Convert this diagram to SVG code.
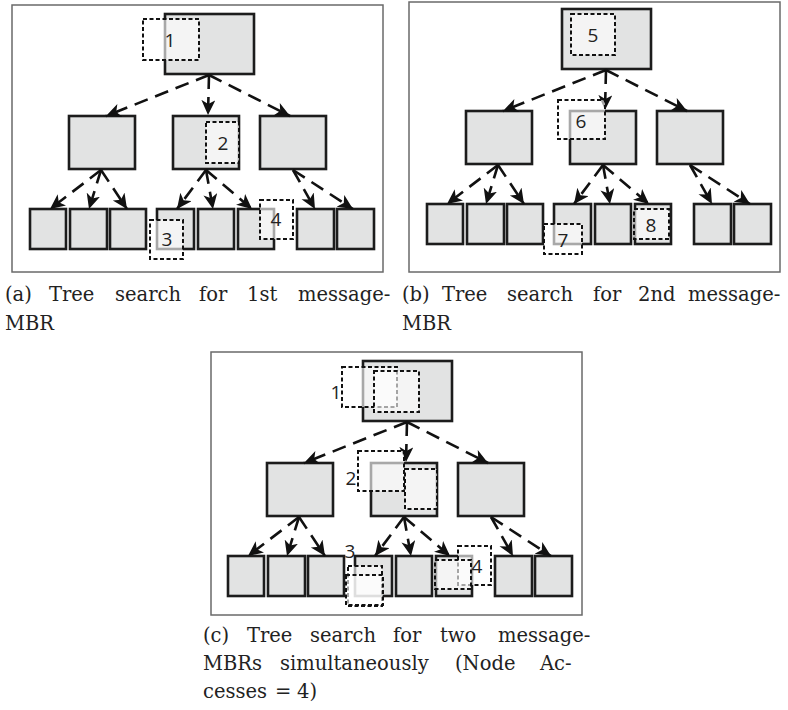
<svg xmlns="http://www.w3.org/2000/svg" width="788" height="710" viewBox="0 0 788 710">
<defs>
<style>
.frame{fill:none;stroke:#6a6a6a;stroke-width:1.5}
.n{fill:#e2e3e3;stroke:#1c1c1c;stroke-width:2.6}
.c{fill:none;stroke:#111;stroke-width:2.6;stroke-dasharray:14 8}
.q{fill:#ffffff;fill-opacity:0.62;stroke:#111;stroke-width:2;stroke-dasharray:4 2.5}
.lbl{font-family:'Open Sans','Liberation Sans',sans-serif;font-size:19px;fill:#222;text-anchor:middle}
.cap{font-family:'DejaVu Serif',serif;font-size:19.5px;fill:#222}
</style>
<marker id="ah" markerUnits="userSpaceOnUse" markerWidth="16" markerHeight="15" refX="15" refY="7" orient="auto">
<path d="M0,0 L15,7 L0,14 L4,7 z" fill="#111"/>
</marker>
</defs>
<rect width="788" height="710" fill="#ffffff"/>
<rect class="frame" x="12" y="5" width="371" height="267"/>
<rect class="frame" x="409" y="2" width="371" height="270"/>
<rect class="frame" x="211" y="352" width="371" height="263"/>

<!-- Panel (a) -->
<g id="panel-a">
<g id="a-nodes">
<g id="a-root"><rect class="n" x="165" y="14" width="89" height="60"/></g>
<g id="a-m1"><rect class="n" x="69" y="116" width="66" height="53"/></g>
<g id="a-m2"><rect class="n" x="173" y="116" width="66" height="53"/></g>
<g id="a-m3"><rect class="n" x="260" y="116" width="66" height="53"/></g>
<g id="a-l1"><rect class="n" x="30" y="209" width="36" height="40"/></g>
<g id="a-l2"><rect class="n" x="70" y="209" width="37" height="40"/></g>
<g id="a-l3"><rect class="n" x="110" y="209" width="36" height="40"/></g>
<g id="a-l4"><rect class="n" x="157" y="209" width="37" height="40"/></g>
<g id="a-l5"><rect class="n" x="198" y="209" width="36" height="40"/></g>
<g id="a-l6"><rect class="n" x="238" y="209" width="36" height="40"/></g>
<g id="a-l7"><rect class="n" x="297" y="209" width="37" height="40"/></g>
<g id="a-l8"><rect class="n" x="337" y="209" width="37" height="40"/></g>
</g>
<g id="a-connectors">
<path class="c" marker-end="url(#ah)" d="M209,75 L106,116"/>
<path class="c" marker-end="url(#ah)" d="M209,75 L208,115"/>
<path class="c" marker-end="url(#ah)" d="M209,75 L290,116"/>
<path class="c" marker-end="url(#ah)" d="M101,170 L50,209"/>
<path class="c" marker-end="url(#ah)" d="M101,170 L89,209"/>
<path class="c" marker-end="url(#ah)" d="M101,170 L127,209"/>
<path class="c" marker-end="url(#ah)" d="M206,170 L177,209"/>
<path class="c" marker-end="url(#ah)" d="M206,170 L213,209"/>
<path class="c" marker-end="url(#ah)" d="M206,170 L252,209"/>
<path class="c" marker-end="url(#ah)" d="M293,170 L315,209"/>
<path class="c" marker-end="url(#ah)" d="M293,170 L353,209"/>
</g>
</g>

<!-- Panel (b) -->
<g id="panel-b" transform="translate(397,-5)">
<g id="b-nodes">
<g id="b-root"><rect class="n" x="165" y="14" width="89" height="60"/></g>
<g id="b-m1"><rect class="n" x="69" y="116" width="66" height="53"/></g>
<g id="b-m2"><rect class="n" x="173" y="116" width="66" height="53"/></g>
<g id="b-m3"><rect class="n" x="260" y="116" width="66" height="53"/></g>
<g id="b-l1"><rect class="n" x="30" y="209" width="36" height="40"/></g>
<g id="b-l2"><rect class="n" x="70" y="209" width="37" height="40"/></g>
<g id="b-l3"><rect class="n" x="110" y="209" width="36" height="40"/></g>
<g id="b-l4"><rect class="n" x="157" y="209" width="37" height="40"/></g>
<g id="b-l5"><rect class="n" x="198" y="209" width="36" height="40"/></g>
<g id="b-l6"><rect class="n" x="238" y="209" width="36" height="40"/></g>
<g id="b-l7"><rect class="n" x="297" y="209" width="37" height="40"/></g>
<g id="b-l8"><rect class="n" x="337" y="209" width="37" height="40"/></g>
</g>
<g id="b-connectors">
<path class="c" marker-end="url(#ah)" d="M209,75 L106,116"/>
<path class="c" marker-end="url(#ah)" d="M209,75 L208,115"/>
<path class="c" marker-end="url(#ah)" d="M209,75 L290,116"/>
<path class="c" marker-end="url(#ah)" d="M101,170 L50,209"/>
<path class="c" marker-end="url(#ah)" d="M101,170 L89,209"/>
<path class="c" marker-end="url(#ah)" d="M101,170 L127,209"/>
<path class="c" marker-end="url(#ah)" d="M206,170 L177,209"/>
<path class="c" marker-end="url(#ah)" d="M206,170 L213,209"/>
<path class="c" marker-end="url(#ah)" d="M206,170 L252,209"/>
<path class="c" marker-end="url(#ah)" d="M293,170 L315,209"/>
<path class="c" marker-end="url(#ah)" d="M293,170 L353,209"/>
</g>
</g>

<!-- Panel (c) -->
<g id="panel-c" transform="translate(198,347)">
<g id="c-nodes">
<g id="c-root"><rect class="n" x="165" y="14" width="89" height="60"/></g>
<g id="c-m1"><rect class="n" x="69" y="116" width="66" height="53"/></g>
<g id="c-m2"><rect class="n" x="173" y="116" width="66" height="53"/></g>
<g id="c-m3"><rect class="n" x="260" y="116" width="66" height="53"/></g>
<g id="c-l1"><rect class="n" x="30" y="209" width="36" height="40"/></g>
<g id="c-l2"><rect class="n" x="70" y="209" width="37" height="40"/></g>
<g id="c-l3"><rect class="n" x="110" y="209" width="36" height="40"/></g>
<g id="c-l4"><rect class="n" x="157" y="209" width="37" height="40"/></g>
<g id="c-l5"><rect class="n" x="198" y="209" width="36" height="40"/></g>
<g id="c-l6"><rect class="n" x="238" y="209" width="36" height="40"/></g>
<g id="c-l7"><rect class="n" x="297" y="209" width="37" height="40"/></g>
<g id="c-l8"><rect class="n" x="337" y="209" width="37" height="40"/></g>
</g>
<g id="c-connectors">
<path class="c" marker-end="url(#ah)" d="M209,75 L106,116"/>
<path class="c" marker-end="url(#ah)" d="M209,75 L208,115"/>
<path class="c" marker-end="url(#ah)" d="M209,75 L290,116"/>
<path class="c" marker-end="url(#ah)" d="M101,170 L50,209"/>
<path class="c" marker-end="url(#ah)" d="M101,170 L89,209"/>
<path class="c" marker-end="url(#ah)" d="M101,170 L127,209"/>
<path class="c" marker-end="url(#ah)" d="M206,170 L177,209"/>
<path class="c" marker-end="url(#ah)" d="M206,170 L213,209"/>
<path class="c" marker-end="url(#ah)" d="M206,170 L252,209"/>
<path class="c" marker-end="url(#ah)" d="M293,170 L315,209"/>
<path class="c" marker-end="url(#ah)" d="M293,170 L353,209"/>
</g>
</g>

<!-- Query boxes (message-MBRs) -->
<g id="queries">
<g id="q-a1"><rect class="q" x="143" y="19" width="56" height="41"/><text class="lbl" x="170" y="47">1</text></g>
<g id="q-a2"><rect class="q" x="206" y="122" width="33" height="41"/><text class="lbl" x="223" y="150">2</text></g>
<g id="q-a3"><rect class="q" x="150" y="220" width="33" height="39"/><text class="lbl" x="167" y="246">3</text></g>
<g id="q-a4"><rect class="q" x="260" y="200" width="33" height="39"/><text class="lbl" x="276" y="226">4</text></g>

<g id="q-b5"><rect class="q" x="571" y="14" width="44" height="41"/><text class="lbl" x="593" y="42">5</text></g>
<g id="q-b6"><rect class="q" x="558" y="100" width="47" height="39"/><text class="lbl" x="581" y="128">6</text></g>
<g id="q-b7"><rect class="q" x="544" y="224" width="38" height="30"/><text class="lbl" x="563" y="247">7</text></g>
<g id="q-b8"><rect class="q" x="634" y="209" width="35" height="30"/><text class="lbl" x="651" y="232">8</text></g>

<g id="q-c1"><rect class="q" x="342" y="367" width="55" height="40"/><rect class="q" x="374" y="371" width="45" height="41"/><text class="lbl" x="336" y="399">1</text></g>
<g id="q-c2"><rect class="q" x="358" y="451" width="46" height="40"/><rect class="q" x="405" y="469" width="32" height="40"/><text class="lbl" x="351" y="485">2</text></g>
<g id="q-c3"><rect class="q" x="348" y="566" width="34" height="40"/><rect class="q" x="346" y="575" width="37" height="30"/><text class="lbl" x="350" y="558">3</text></g>
<g id="q-c4"><rect class="q" x="458" y="546" width="33" height="39"/><rect class="q" x="435" y="560" width="36" height="29"/><text class="lbl" x="477" y="573">4</text></g>
</g>

<!-- Captions -->
<g id="captions">
<text class="cap" y="301"><tspan x="5">(a)</tspan><tspan x="49">Tree</tspan><tspan x="115">search</tspan><tspan x="199">for</tspan><tspan x="247">1st</tspan><tspan x="298">message-</tspan></text>
<text class="cap" x="5" y="330">MBR</text>
<text class="cap" y="301"><tspan x="402">(b)</tspan><tspan x="442">Tree</tspan><tspan x="507">search</tspan><tspan x="593">for</tspan><tspan x="638">2nd</tspan><tspan x="688">message-</tspan></text>
<text class="cap" x="402" y="330">MBR</text>
<text class="cap" y="642"><tspan x="203">(c)</tspan><tspan x="247">Tree</tspan><tspan x="310">search</tspan><tspan x="393">for</tspan><tspan x="440">two</tspan><tspan x="498">message-</tspan></text>
<text class="cap" y="670"><tspan x="203">MBRs</tspan><tspan x="280">simultaneously</tspan><tspan x="455">(Node</tspan><tspan x="540">Ac-</tspan></text>
<text class="cap" y="698"><tspan x="203">cesses</tspan><tspan x="275">=</tspan><tspan x="297">4)</tspan></text>
</g>
</svg>
